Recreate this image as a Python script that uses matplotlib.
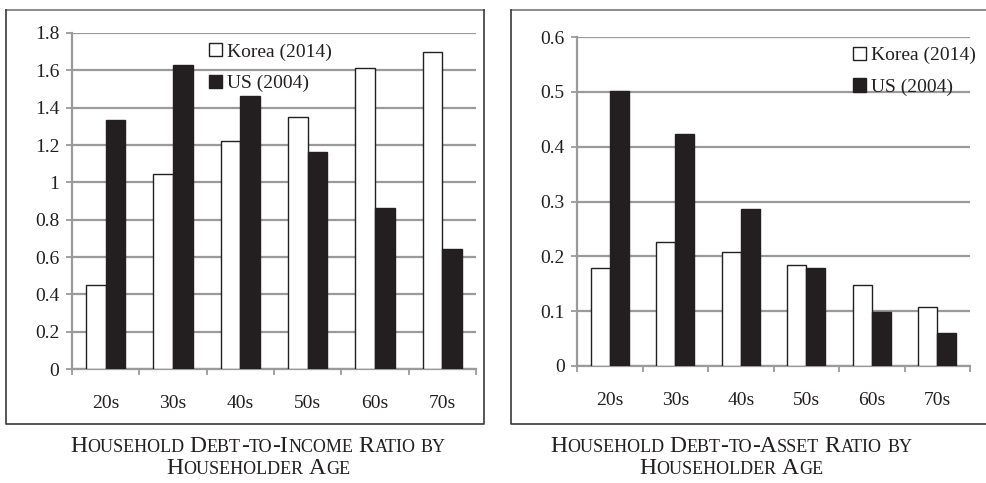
import matplotlib
matplotlib.use("Agg")
import matplotlib.pyplot as plt
import numpy as np
from matplotlib.patches import Rectangle
from matplotlib.lines import Line2D
from matplotlib.offsetbox import TextArea, HPacker, VPacker, AnchoredOffsetbox

plt.rcParams['font.family'] = ['Liberation Serif', 'DejaVu Serif']

categories = ["20s", "30s", "40s", "50s", "60s", "70s"]
series_names = ["Korea (2014)", "US (2004)"]
income_korea = [0.45, 1.045, 1.22, 1.35, 1.61, 1.70]
income_us = [1.335, 1.63, 1.46, 1.165, 0.86, 0.645]
asset_korea = [0.178, 0.227, 0.207, 0.185, 0.148, 0.107]
asset_us = [0.501, 0.424, 0.287, 0.178, 0.098, 0.060]
income_ticks = [0, 0.2, 0.4, 0.6, 0.8, 1, 1.2, 1.4, 1.6, 1.8]
income_ticklabels = ["0", "0.2", "0.4", "0.6", "0.8", "1", "1.2", "1.4", "1.6", "1.8"]
asset_ticks = [0, 0.1, 0.2, 0.3, 0.4, 0.5, 0.6]
asset_ticklabels = ["0", "0.1", "0.2", "0.3", "0.4", "0.5", "0.6"]
captions = [["Household Debt-to-Income Ratio by", "Householder Age"],
            ["Household Debt-to-Asset Ratio by", "Householder Age"]]

W, H = 987, 483
fig = plt.figure(figsize=(W / 100, H / 100), dpi=100)

DARK = "#231f20"
GRID = "#9a9a9a"
FS = 14


def px_axes(x0, x1, ytop, ybot):
    return fig.add_axes([x0 / W, 1 - ybot / H, (x1 - x0) / W, (ybot - ytop) / H])


def draw_panel(ax, korea, us, ticks, ticklabels, ymax, leg_x):
    x = np.arange(len(categories))
    bw = 0.29
    ax.bar(x - bw / 2, korea, bw, color="white", edgecolor=DARK, linewidth=1.0,
           label=series_names[0], zorder=3)
    ax.bar(x + bw / 2, us, bw, color=DARK, edgecolor=DARK, linewidth=1.0,
           label=series_names[1], zorder=3)
    ax.set_xlim(-0.5, len(categories) - 0.5)
    ax.set_ylim(0, ymax)
    ax.set_yticks(ticks)
    ax.set_yticklabels(ticklabels, fontsize=FS, color=DARK)
    ax.yaxis.grid(True, color=GRID, linewidth=1.6, zorder=0)
    ax.set_axisbelow(True)
    ax.set_xticks(np.arange(len(categories) + 1) - 0.5)
    ax.set_xticklabels([])
    ax.set_xticks(x, minor=True)
    ax.set_xticklabels(categories, minor=True, fontsize=FS, color=DARK)
    ax.tick_params(axis="x", which="major", length=4, color=GRID, width=1.3, direction="out")
    ax.tick_params(axis="x", which="minor", length=0, pad=19)
    ax.tick_params(axis="y", length=4, color=GRID, width=1.3, pad=5)
    for s in ["top", "right"]:
        ax.spines[s].set_visible(False)
    for s in ["left", "bottom"]:
        ax.spines[s].set_color(GRID)
        ax.spines[s].set_linewidth(1.6)
    ax.set_facecolor("none")
    leg = ax.legend(loc="upper left", bbox_to_anchor=(leg_x, 0.97), frameon=False,
                    fontsize=FS, handlelength=0.68, handleheight=0.68, handletextpad=0.25,
                    labelspacing=0.72, borderpad=0, borderaxespad=0)
    for t in leg.get_texts():
        t.set_color(DARK)


ax1 = px_axes(72, 476, 33, 369)
draw_panel(ax1, income_korea, income_us, income_ticks, income_ticklabels, 1.8, 0.339)
ax2 = px_axes(577, 970, 37, 366)
draw_panel(ax2, asset_korea, asset_us, asset_ticks, asset_ticklabels, 0.6, 0.702)

# outer frames: grey top edge, dark sides and bottom
for (x0, x1) in [(6, 484), (511, 992)]:
    fx0, fx1 = x0 / W, x1 / W
    fy0, fy1 = 1 - 424 / H, 1 - 10 / H
    fig.add_artist(Line2D([fx0, fx1], [fy1, fy1], transform=fig.transFigure,
                          color="#8a8a8a", linewidth=1.4))
    fig.add_artist(Line2D([fx0, fx0, fx1, fx1], [fy1, fy0, fy0, fy1], transform=fig.transFigure,
                          color="#3a3a3a", linewidth=1.2))

BIG, SMALL = 17, 13


def small_caps_line(text):
    words = []
    for word in text.split(" "):
        runs = []
        cur = ""
        cur_up = None
        for ch in word:
            up = not ch.islower()
            if cur_up is None or up == cur_up:
                cur += ch
            else:
                runs.append((cur, cur_up))
                cur = ch
            cur_up = up
        if cur:
            runs.append((cur, cur_up))
        boxes = [TextArea(r.upper(), textprops=dict(fontsize=BIG if u else SMALL, color=DARK))
                 for r, u in runs]
        words.append(HPacker(children=boxes, align="baseline", pad=0, sep=0))
    return HPacker(children=words, align="baseline", pad=0, sep=4)


for (cx, lines) in [(258, captions[0]), (731, captions[1])]:
    vp = VPacker(children=[small_caps_line(l) for l in lines], align="center", pad=0, sep=1)
    ab = AnchoredOffsetbox(loc="upper center", child=vp, pad=0, borderpad=0, frameon=False,
                           bbox_to_anchor=(cx / W, 1 - 436 / H), bbox_transform=fig.transFigure)
    fig.add_artist(ab)

fig.savefig("out.png", dpi=100)
